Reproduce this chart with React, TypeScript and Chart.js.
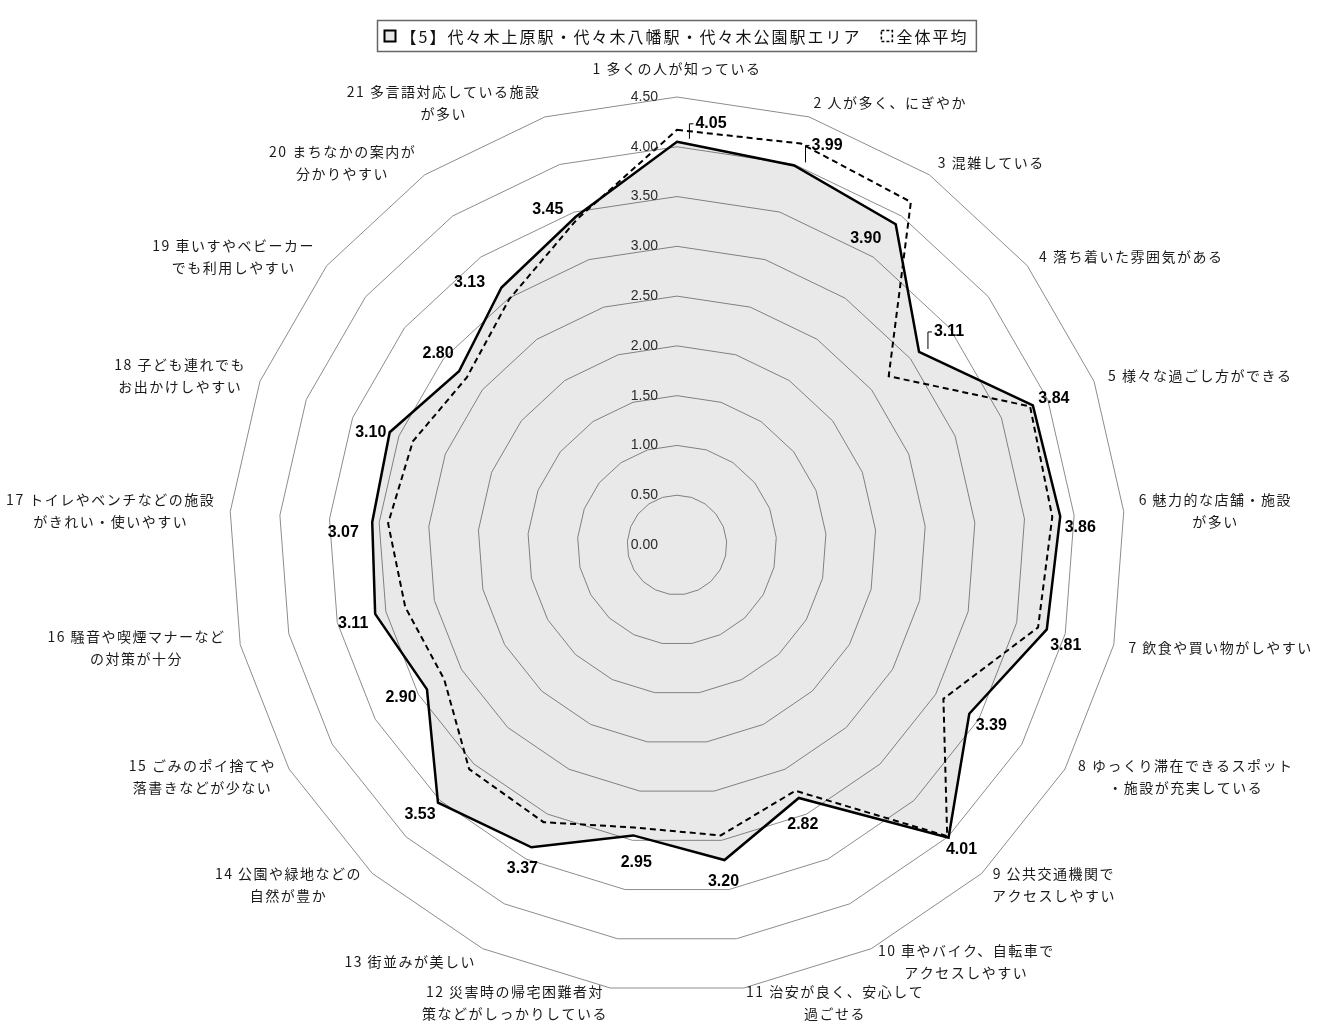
import React, { useEffect, useRef } from "react";
import { Chart, registerables } from "chart.js";

Chart.register(...registerables);

// ---------------- data ----------------
const categories: string[][] = [
  ["1 多くの人が知っている"],
  ["2 人が多く、にぎやか"],
  ["3 混雑している"],
  ["4 落ち着いた雰囲気がある"],
  ["5 様々な過ごし方ができる"],
  ["6 魅力的な店舗・施設", "が多い"],
  ["7 飲食や買い物がしやすい"],
  ["8 ゆっくり滞在できるスポット", "・施設が充実している"],
  ["9 公共交通機関で", "アクセスしやすい"],
  ["10 車やバイク、自転車で", "アクセスしやすい"],
  ["11 治安が良く、安心して", "過ごせる"],
  ["12 災害時の帰宅困難者対", "策などがしっかりしている"],
  ["13 街並みが美しい"],
  ["14 公園や緑地などの", "自然が豊か"],
  ["15 ごみのポイ捨てや", "落書きなどが少ない"],
  ["16 騒音や喫煙マナーなど", "の対策が十分"],
  ["17 トイレやベンチなどの施設", "がきれい・使いやすい"],
  ["18 子ども連れでも", "お出かけしやすい"],
  ["19 車いすやベビーカー", "でも利用しやすい"],
  ["20 まちなかの案内が", "分かりやすい"],
  ["21 多言語対応している施設", "が多い"],
];

const areaName = "【5】代々木上原駅・代々木八幡駅・代々木公園駅エリア";
const averageName = "全体平均";

const areaValues: number[] = [
  4.05, 3.99, 3.9, 3.11, 3.84, 3.86, 3.81, 3.39, 4.01, 2.82, 3.2,
  2.95, 3.37, 3.53, 2.9, 3.11, 3.07, 3.1, 2.8, 3.13, 3.45,
];

const averageValues: number[] = [
  4.17, 4.22, 4.17, 2.72, 3.81, 3.78, 3.72, 3.09, 3.99, 2.74, 2.95,
  2.87, 3.09, 3.07, 2.7, 2.8, 2.91, 2.85, 2.7, 2.99, 3.42,
];

const scaleMin = 0;
const scaleMax = 4.5;
const scaleStep = 0.5;

// ---------------- styles ----------------
const CJK = '"Noto Sans CJK JP", "Noto Sans", sans-serif';
const NUM = '"Liberation Sans", Arial, sans-serif';
const TICK_FONT = `14px ${NUM}`;
const VALUE_FONT = `bold 16px ${NUM}`;
const CAT_FONT = `14px ${CJK}`;
const LEGEND_FONT = `16px ${CJK}`;
const CAT_LINE_H = 22;
const CAT_PAD = 15;
// label nudges (pixels, relative to each point drawn by the scale)
const LABEL_OFFSETS: [number, number][] = [
  [34, -18], [33, -20], [-30, 14], [30, -20], [21, -7], [20, 11], [19, 16],
  [22, 12], [13, 12], [4, 27], [-1, 22], [3, 27], [-9, 21], [-18, 12],
  [-26, 8], [-22, 10], [-29, 10], [-19, 0], [-21, -18], [-32, -5], [-28, -7],
];
const LEADER_INDEXES = [0, 1, 3];

const overlayPlugin = {
  id: "overlay",
  afterDatasetsDraw(chart: any) {
    const s = chart.scales.r;
    const ctx: CanvasRenderingContext2D = chart.ctx;
    ctx.save();

    // tick labels
    ctx.font = TICK_FONT;
    ctx.fillStyle = "#2a2a2a";
    ctx.textAlign = "right";
    ctx.textBaseline = "middle";
    s.ticks.forEach((t: any) => {
      const y = s.yCenter - s.getDistanceFromCenterForValue(t.value);
      ctx.fillText(Number(t.value).toFixed(2), s.xCenter - 19, y);
    });

    // category labels
    ctx.font = CAT_FONT;
    (ctx as any).letterSpacing = "1.5px";
    ctx.fillStyle = "#1a1a1a";
    ctx.textAlign = "center";
    ctx.textBaseline = "middle";
    categories.forEach((lines, i) => {
      const a = s.getIndexAngle(i);
      const sn = Math.sin(a);
      const cs = Math.cos(a);
      const w = Math.max(...lines.map((l) => ctx.measureText(l).width));
      const h = lines.length * CAT_LINE_H;
      const p = s.getPointPosition(i, s.drawingArea + CAT_PAD);
      let cx = p.x;
      if (Math.abs(sn) >= 0.05) cx = sn > 0 ? p.x + w / 2 : p.x - w / 2;
      let cy = p.y;
      if (cs > 0.99) cy = p.y - h / 2 - 2;
      lines.forEach((l, k) => {
        ctx.fillText(l, cx, cy - h / 2 + CAT_LINE_H * (k + 0.5));
      });
    });
    (ctx as any).letterSpacing = "0px";

    // value labels
    ctx.font = VALUE_FONT;
    ctx.fillStyle = "#000";
    ctx.strokeStyle = "#000";
    ctx.lineWidth = 1;
    areaValues.forEach((v, i) => {
      const p = s.getPointPosition(i, s.getDistanceFromCenterForValue(v));
      const [dx, dy] = LABEL_OFFSETS[i];
      const lx = p.x + dx;
      const ly = p.y + dy;
      const text = v.toFixed(2);
      ctx.fillText(text, lx, ly);
      if (LEADER_INDEXES.includes(i)) {
        const left = lx - ctx.measureText(text).width / 2;
        ctx.beginPath();
        ctx.moveTo(left - 2, ly);
        ctx.lineTo(left - 6, ly);
        ctx.lineTo(left - 6, p.y - 3);
        ctx.stroke();
      }
    });
    ctx.restore();
  },
  afterDraw(chart: any) {
    const ctx: CanvasRenderingContext2D = chart.ctx;
    ctx.save();
    ctx.font = LEGEND_FONT;
    (ctx as any).letterSpacing = "2px";
    const w1 = ctx.measureText(areaName).width;
    const w2 = ctx.measureText(averageName).width;
    const mk = 11;
    const total = 7 + mk + 5 + w1 + 20 + mk + 4 + w2 + 8;
    const boxCx = 676;
    const left = Math.round(boxCx - total / 2) + 0.5;
    const top = 20.5;
    const bh = 31;
    ctx.strokeStyle = "#666";
    ctx.lineWidth = 1.5;
    ctx.strokeRect(left, top, total, bh);
    const cy = top + bh / 2;
    let x = left + 7;
    // marker 1
    ctx.fillStyle = "#e8e8e8";
    ctx.fillRect(x, cy - mk / 2, mk, mk);
    ctx.strokeStyle = "#000";
    ctx.lineWidth = 2;
    ctx.strokeRect(x, cy - mk / 2, mk, mk);
    x += mk + 5;
    ctx.fillStyle = "#111";
    ctx.textAlign = "left";
    ctx.textBaseline = "middle";
    ctx.fillText(areaName, x, cy + 1);
    x += w1 + 20;
    // marker 2
    ctx.lineWidth = 1.5;
    ctx.setLineDash([3, 2]);
    ctx.strokeRect(x, cy - mk / 2, mk, mk);
    ctx.setLineDash([]);
    x += mk + 4;
    ctx.fillText(averageName, x, cy + 1);
    ctx.restore();
  },
};

export default function App() {
  const canvasRef = useRef<HTMLCanvasElement | null>(null);

  useEffect(() => {
    if (!canvasRef.current) return;
    const chart = new Chart(canvasRef.current, {
      type: "radar",
      data: {
        labels: categories.map((c) => c.join("")),
        datasets: [
          {
            label: areaName,
            data: areaValues,
            borderColor: "#000",
            borderWidth: 2.5,
            backgroundColor: "rgba(0,0,0,0.085)",
            fill: "origin",
            pointRadius: 0,
            pointHoverRadius: 0,
            tension: 0,
          },
          {
            label: averageName,
            data: averageValues,
            borderColor: "#000",
            borderWidth: 2,
            borderDash: [6, 4],
            backgroundColor: "rgba(0,0,0,0)",
            fill: false,
            pointRadius: 0,
            pointHoverRadius: 0,
            tension: 0,
          },
        ],
      },
      options: {
        responsive: false,
        animation: false,
        devicePixelRatio: 1,
        layout: { padding: { top: 97, bottom: 31, left: 200, right: 182 } },
        plugins: {
          legend: { display: false },
          tooltip: { enabled: false },
          title: { display: false },
        },
        scales: {
          r: {
            min: scaleMin,
            max: scaleMax,
            beginAtZero: true,
            ticks: { stepSize: scaleStep, display: false },
            grid: { color: "#8c8c8c", lineWidth: 1, circular: false },
            angleLines: { display: false },
            pointLabels: { display: false },
          },
        },
      },
      plugins: [overlayPlugin],
    });
    return () => chart.destroy();
  }, []);

  return (
    <div style={{ position: "absolute", left: 0, top: 0, width: 1336, height: 1024, background: "#fff" }}>
      <canvas ref={canvasRef} width={1336} height={1024} style={{ width: 1336, height: 1024, display: "block" }} />
    </div>
  );
}
